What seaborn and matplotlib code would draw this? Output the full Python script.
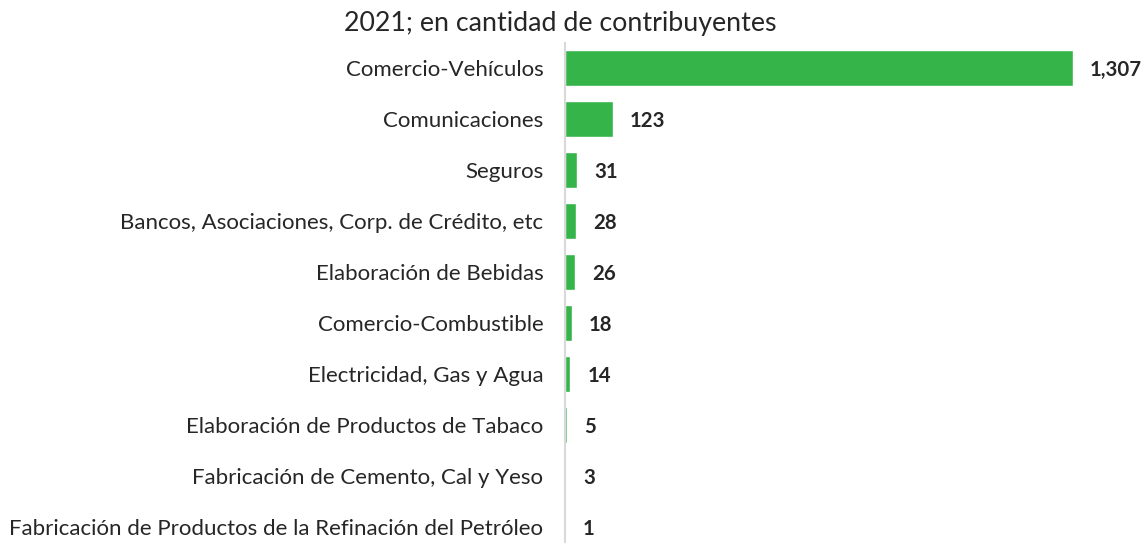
import matplotlib
matplotlib.use("Agg")
import matplotlib.pyplot as plt
import seaborn as sns
import pandas as pd

sectores = [
    "Comercio-Vehículos",
    "Comunicaciones",
    "Seguros",
    "Bancos, Asociaciones, Corp. de Crédito, etc",
    "Elaboración de Bebidas",
    "Comercio-Combustible",
    "Electricidad, Gas y Agua",
    "Elaboración de Productos de Tabaco",
    "Fabricación de Cemento, Cal y Yeso",
    "Fabricación de Productos de la Refinación del Petróleo",
]
contribuyentes = [1307, 123, 31, 28, 26, 18, 14, 5, 3, 1]
titulo = "2021; en cantidad de contribuyentes"

df = pd.DataFrame({"sector": sectores, "n": contribuyentes})

sns.set_style("white")
plt.rcParams["font.family"] = ["Lato", "DejaVu Sans"]

fig = plt.figure(figsize=(11.47, 5.43), dpi=100)
ax = fig.add_axes([565 / 1147, 0, (1073 - 565) / 1147, 1 - 42.5 / 543])

sns.barplot(data=df, x="n", y="sector", color="#35B44A", saturation=1,
            width=0.7, orient="h", ax=ax)

ax.set_xlim(0, 1307)
ax.set_ylim(9 + 16 / 51, -0.5)

for i, v in enumerate(contribuyentes):
    ax.annotate(f"{v:,}", xy=(v, i), xytext=(17, -2), textcoords="offset pixels",
                ha="left", va="center", fontsize=14.7, fontweight="bold",
                annotation_clip=False)

ax.set_xlabel("")
ax.set_ylabel("")
ax.set_xticks([])
ax.tick_params(axis="y", length=0, pad=15.5, labelsize=16.0)
for s in ["top", "right", "bottom"]:
    ax.spines[s].set_visible(False)
ax.spines["left"].set_color("#d9d9d9")
ax.spines["left"].set_linewidth(1.5)

fig.text(560 / 1147, 1 - 23 / 543, titulo, ha="center", va="center", fontsize=19.3)

fig.savefig("out.png", dpi=100)
